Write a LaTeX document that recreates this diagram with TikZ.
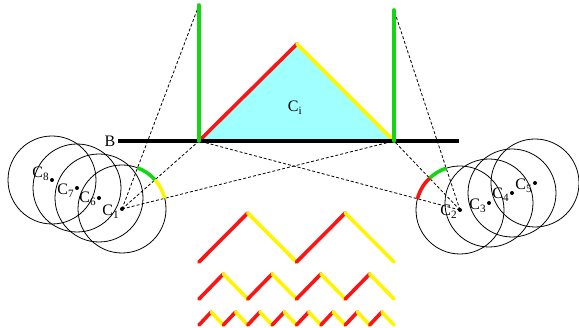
\documentclass[tikz,border=0pt]{standalone}
\usepackage{fontspec}
\setmainfont{Liberation Serif}
\usetikzlibrary{positioning}
\definecolor{fgreen}{RGB}{20,215,20}
\definecolor{fred}{RGB}{250,20,20}
\definecolor{fyellow}{RGB}{255,245,0}
\definecolor{fcyan}{RGB}{160,255,255}
\tikzset{
  pt/.style={circle, fill, inner sep=0pt, minimum size=4pt},
  lbl/.style={inner sep=0.5pt, font=\fontsize{16}{16}\selectfont},
  ring/.style={black, line width=0.8pt},
  sight/.style={densely dashed, line width=0.8pt},
  thick edge/.style={line width=3.6pt, line cap=round},
}
\begin{document}
\begin{tikzpicture}[x=1pt,y=-1pt]
\useasboundingbox (0,0) rectangle (579,328);
% key points of the scene
\coordinate (lt) at (199,5);
\coordinate (lb) at (199,141);
\coordinate (rt) at (394,10);
\coordinate (rb) at (394,141);
\coordinate (apex) at (297,44);
\coordinate (bl) at (118,141);
\coordinate (br) at (459,141);
% left group of centres
\node[pt] (c1) at (122,209) {};
\node[pt] (c6) at (99,198) {};
\node[pt] (c7) at (77,188) {};
\node[pt] (c8) at (52,180) {};
% right group of centres
\node[pt] (c2) at (460,210) {};
\node[pt] (c3) at (489,203) {};
\node[pt] (c4) at (512,193) {};
\node[pt] (c5) at (535,183) {};
\foreach \c in {c1,c6,c7,c8,c2,c3,c4,c5}
  \draw[ring] (\c.center) circle[radius=44];
% labels
\node[lbl, left=0pt of c1, yshift=-3pt] (l1) {C\textsubscript{1}};
\node[lbl, left=0pt of c6, yshift=-1pt] (l6) {C\textsubscript{6}};
\node[lbl, left=0pt of c7, yshift=-3pt] (l7) {C\textsubscript{7}};
\node[lbl, left=0pt of c8, yshift=6pt] (l8) {C\textsubscript{8}};
\node[lbl, left=0pt of c2, yshift=-2pt] (l2) {C\textsubscript{2}};
\node[lbl, left=0pt of c3, yshift=-3pt] (l3) {C\textsubscript{3}};
\node[lbl, left=0pt of c4, yshift=-2pt] (l4) {C\textsubscript{4}};
\node[lbl, left=0pt of c5, yshift=-3pt] (l5) {C\textsubscript{5}};
% lines of sight
\draw[sight] (c1.center) -- (lt);
\draw[sight] (c1.center) -- (lb);
\draw[sight] (c1.center) -- (rb);
\draw[sight] (c2.center) -- (rt);
\draw[sight] (c2.center) -- (rb);
\draw[sight] (c2.center) -- (lb);
% visible arcs
\draw[thick edge, fgreen, line cap=butt] (c1.center) ++(-69.3:44) arc[start angle=-69.3, end angle=-41.4, radius=44];
\draw[thick edge, fyellow, line cap=butt] (c1.center) ++(-41.4:44) arc[start angle=-41.4, end angle=-14.0, radius=44];
\draw[thick edge, fgreen, line cap=butt] (c2.center) ++(-108.3:44) arc[start angle=-108.3, end angle=-133.7, radius=44];
\draw[thick edge, fred, line cap=butt] (c2.center) ++(-133.7:44) arc[start angle=-133.7, end angle=-165.2, radius=44];
% obstacle
\fill[fcyan] (lb) -- (apex) -- (rb) -- cycle;
\node[lbl] (ci) at (295,108) {C\textsubscript{i}};
\draw[thick edge, fred] (lb) -- (apex);
\draw[thick edge, fyellow] (apex) -- (rb);
\draw[line width=4pt] (bl) -- (br);
\node[lbl, left=2pt of bl] (b) {B};
\draw[thick edge, fgreen] (lb) -- (lt);
\draw[thick edge, fgreen] (rb) -- (rt);
% unfolded boundaries
\foreach \n/\y/\h in {2/262/49, 4/299/25, 8/325/13}{
  \pgfmathsetmacro{\w}{195/\n}
  \foreach \k in {1,...,\n}{
    \pgfmathsetmacro{\xa}{199+(\k-1)*\w}
    \draw[thick edge, fred] (\xa,\y) -- ++(\w/2,-\h);
    \draw[thick edge, fyellow] (\xa+\w/2,\y-\h) -- ++(\w/2,\h);
  }
}
\end{tikzpicture}
\end{document}
